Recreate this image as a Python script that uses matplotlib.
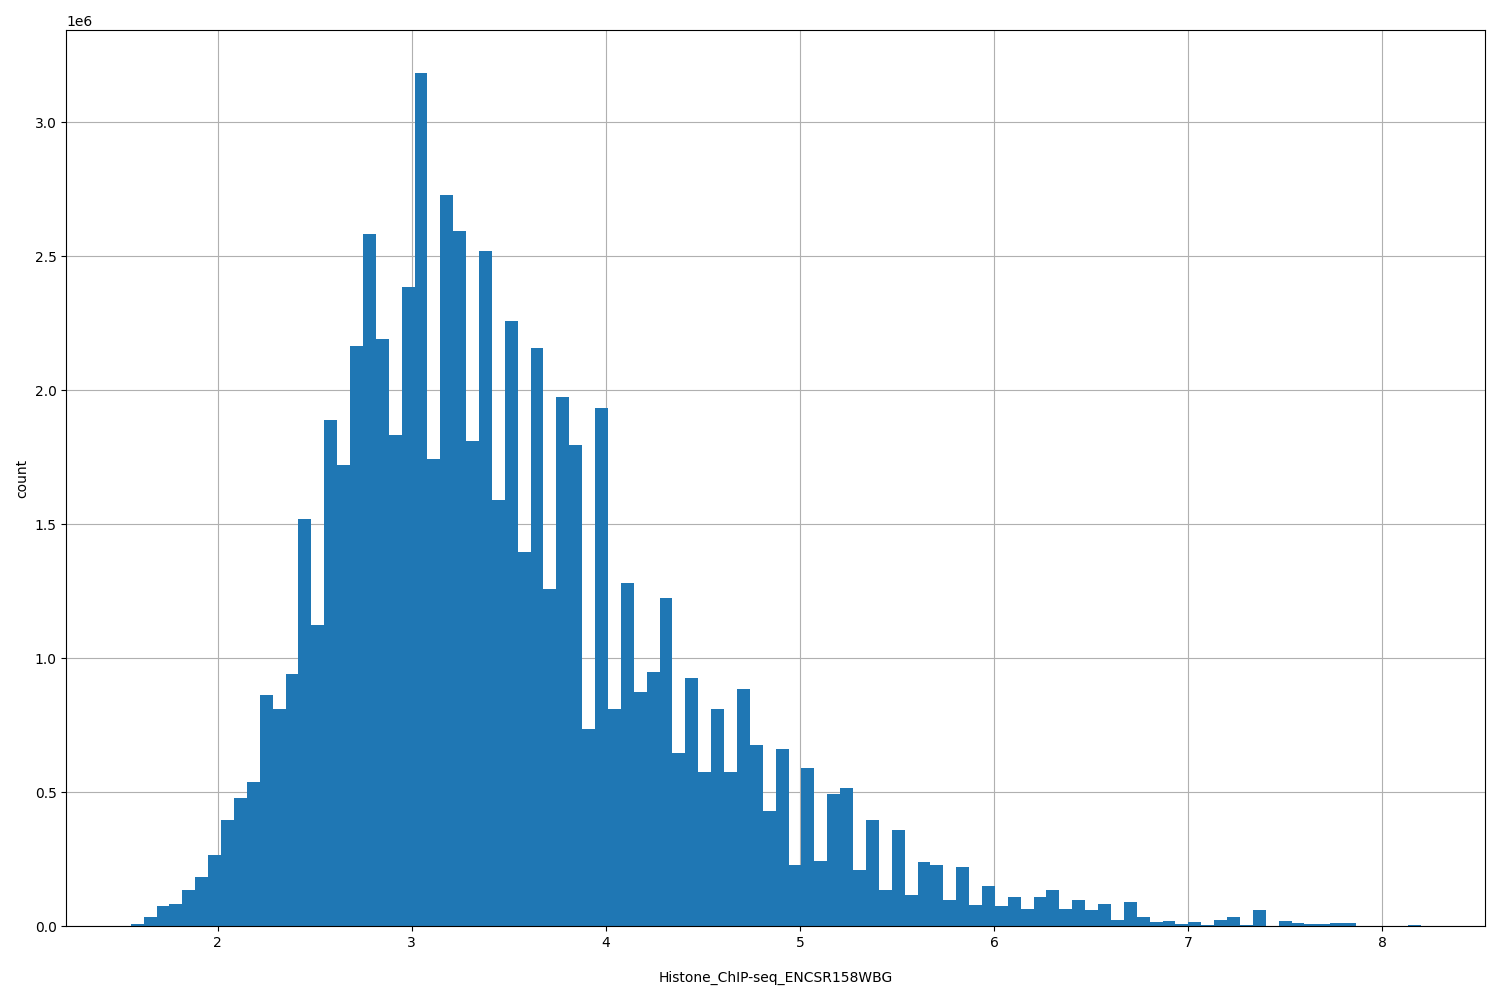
import numpy as np
import matplotlib.pyplot as plt

# histogram range and bar heights (millions)
x_min = 1.552
x_max = 8.197
n_bins = 100
counts_m = [
    0.01, 0.035, 0.075, 0.085, 0.135, 0.185, 0.265, 0.395, 0.48, 0.54,
    0.865, 0.81, 0.94, 1.52, 1.125, 1.89, 1.72, 2.165, 2.585, 2.19,
    1.835, 2.385, 3.185, 1.745, 2.73, 2.595, 1.81, 2.52, 1.59, 2.26,
    1.395, 2.16, 1.26, 1.975, 1.795, 0.735, 1.935, 0.81, 1.28, 0.875,
    0.95, 1.225, 0.645, 0.925, 0.575, 0.81, 0.575, 0.885, 0.675, 0.43,
    0.66, 0.23, 0.59, 0.245, 0.495, 0.515, 0.21, 0.395, 0.135, 0.36,
    0.115, 0.24, 0.23, 0.1, 0.22, 0.08, 0.15, 0.075, 0.11, 0.065,
    0.11, 0.135, 0.065, 0.1, 0.06, 0.085, 0.025, 0.09, 0.035, 0.015,
    0.02, 0.01, 0.015, 0.005, 0.025, 0.035, 0.005, 0.06, 0.0, 0.02,
    0.012, 0.008, 0.008, 0.012, 0.012, 0.002, 0.002, 0.002, 0.001, 0.005,
]

edges = np.linspace(x_min, x_max, n_bins + 1)
centers = (edges[:-1] + edges[1:]) / 2
counts = np.array(counts_m) * 1e6

fig, ax = plt.subplots(figsize=(15, 10), dpi=100)
ax.hist(centers, bins=edges, weights=counts, color='#1f77b4')
ax.grid(True)
ax.set_axisbelow(True)
ax.set_xlabel('Histone_ChIP-seq_ENCSR158WBG', labelpad=15)
ax.set_ylabel('count')
plt.tight_layout()
plt.savefig('out.png')
